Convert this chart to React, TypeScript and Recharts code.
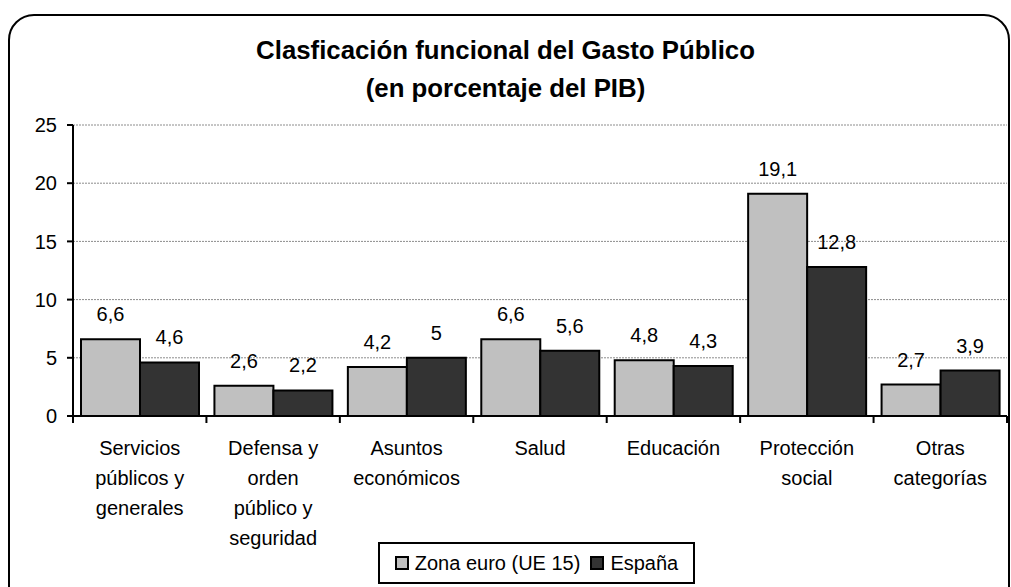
import { BarChart, Bar, XAxis, YAxis, CartesianGrid, LabelList } from "recharts";

const categories = [
  "Servicios públicos y generales",
  "Defensa y orden público y seguridad",
  "Asuntos económicos",
  "Salud",
  "Educación",
  "Protección social",
  "Otras categorías",
];

// how each x label breaks into lines
const tickLines = [
  ["Servicios", "públicos y", "generales"],
  ["Defensa y", "orden", "público y", "seguridad"],
  ["Asuntos", "económicos"],
  ["Salud"],
  ["Educación"],
  ["Protección", "social"],
  ["Otras", "categorías"],
];

const zonaEuro = [6.6, 2.6, 4.2, 6.6, 4.8, 19.1, 2.7];
const espana = [4.6, 2.2, 5, 5.6, 4.3, 12.8, 3.9];
const yTicks = [0, 5, 10, 15, 20, 25];

const data = categories.map((name, i) => ({
  name,
  zona: zonaEuro[i],
  esp: espana[i],
}));

const FONT = "Arial, 'Liberation Sans', sans-serif";
const W = 1011;
const H = 587;
const MARGIN = { top: 125, right: 4, bottom: 51, left: 13 };
const Y_WIDTH = 60;
const plotWidth = W - MARGIN.left - MARGIN.right - Y_WIDTH;
const halfBand = plotWidth / categories.length / 2;

const fmt = (v: any) => String(v).replace(".", ",");

const XTick = (props: any) => {
  const { x, y, index } = props;
  const lines = tickLines[index] || [];
  const axisY = y - 8;
  return (
    <g>
      <line x1={x - halfBand} x2={x - halfBand} y1={axisY} y2={axisY + 7} stroke="#000" strokeWidth={2} />
      {index === categories.length - 1 && (
        <line x1={x + halfBand} x2={x + halfBand} y1={axisY} y2={axisY + 7} stroke="#000" strokeWidth={2} />
      )}
      <text x={x} y={axisY + 39} textAnchor="middle" fontSize={20} fontFamily={FONT} fill="#000">
        {lines.map((l, i) => (
          <tspan key={i} x={x} dy={i === 0 ? 0 : 30}>
            {l}
          </tspan>
        ))}
      </text>
    </g>
  );
};

const swatch = (color: string) => (
  <span
    style={{
      display: "inline-block",
      width: 10,
      height: 10,
      background: color,
      border: "2px solid #000",
      marginRight: 6,
    }}
  />
);

export default function App() {
  return (
    <div style={{ position: "absolute", left: 0, top: 0, width: W, height: H, overflow: "hidden", background: "#fff" }}>
      <div
        style={{
          position: "absolute",
          left: 8,
          top: 14,
          width: 1002,
          height: 600,
          border: "2px solid #000",
          borderRadius: 26,
          boxSizing: "border-box",
        }}
      />
      <div
        style={{
          position: "absolute",
          left: 0,
          top: 31,
          width: W,
          textAlign: "center",
          fontFamily: FONT,
          fontWeight: "bold",
          fontSize: 25.8,
          lineHeight: "38px",
        }}
      >
        Clasficación funcional del Gasto Público
        <br />
        (en porcentaje del PIB)
      </div>
      <div style={{ position: "absolute", left: 0, top: 0 }}>
        <BarChart width={W} height={H} data={data} margin={MARGIN} barGap={0} barCategoryGap={8}>
          <CartesianGrid vertical={false} stroke="#8c8c8c" strokeDasharray="2 1" />
          <XAxis
            dataKey="name"
            tick={<XTick />}
            tickLine={false}
            axisLine={{ stroke: "#000", strokeWidth: 2 }}
            height={120}
            interval={0}
          />
          <YAxis
            domain={[0, 25]}
            ticks={yTicks}
            width={Y_WIDTH}
            tickSize={6}
            tickMargin={10}
            axisLine={{ stroke: "#000", strokeWidth: 2 }}
            tickLine={{ stroke: "#000", strokeWidth: 2 }}
            tick={{ fontSize: 20, fontFamily: FONT, fill: "#000" }}
          />
          <YAxis
            yAxisId="right"
            orientation="right"
            domain={[0, 25]}
            width={0}
            tick={false}
            tickLine={false}
            axisLine={{ stroke: "#8c8c8c", strokeWidth: 2 }}
          />
          <Bar dataKey="zona" name="Zona euro (UE 15)" fill="#c0c0c0" stroke="#000" strokeWidth={2} isAnimationActive={false}>
            <LabelList dataKey="zona" position="top" offset={18} formatter={fmt} style={{ fontSize: 20, fontFamily: FONT, fill: "#000" }} />
          </Bar>
          <Bar dataKey="esp" name="España" fill="#333333" stroke="#000" strokeWidth={2} isAnimationActive={false}>
            <LabelList dataKey="esp" position="top" offset={18} formatter={fmt} style={{ fontSize: 20, fontFamily: FONT, fill: "#000" }} />
          </Bar>
        </BarChart>
      </div>
      <div
        style={{
          position: "absolute",
          left: 378,
          top: 542,
          width: 317,
          height: 42,
          boxSizing: "border-box",
          display: "flex",
          alignItems: "center",
          justifyContent: "center",
          border: "2px solid #000",
          fontFamily: FONT,
          fontSize: 20,
          background: "#fff",
        }}
      >
        {swatch("#c0c0c0")}
        <span style={{ marginRight: 10 }}>Zona euro (UE 15)</span>
        {swatch("#333333")}
        <span>España</span>
      </div>
    </div>
  );
}
